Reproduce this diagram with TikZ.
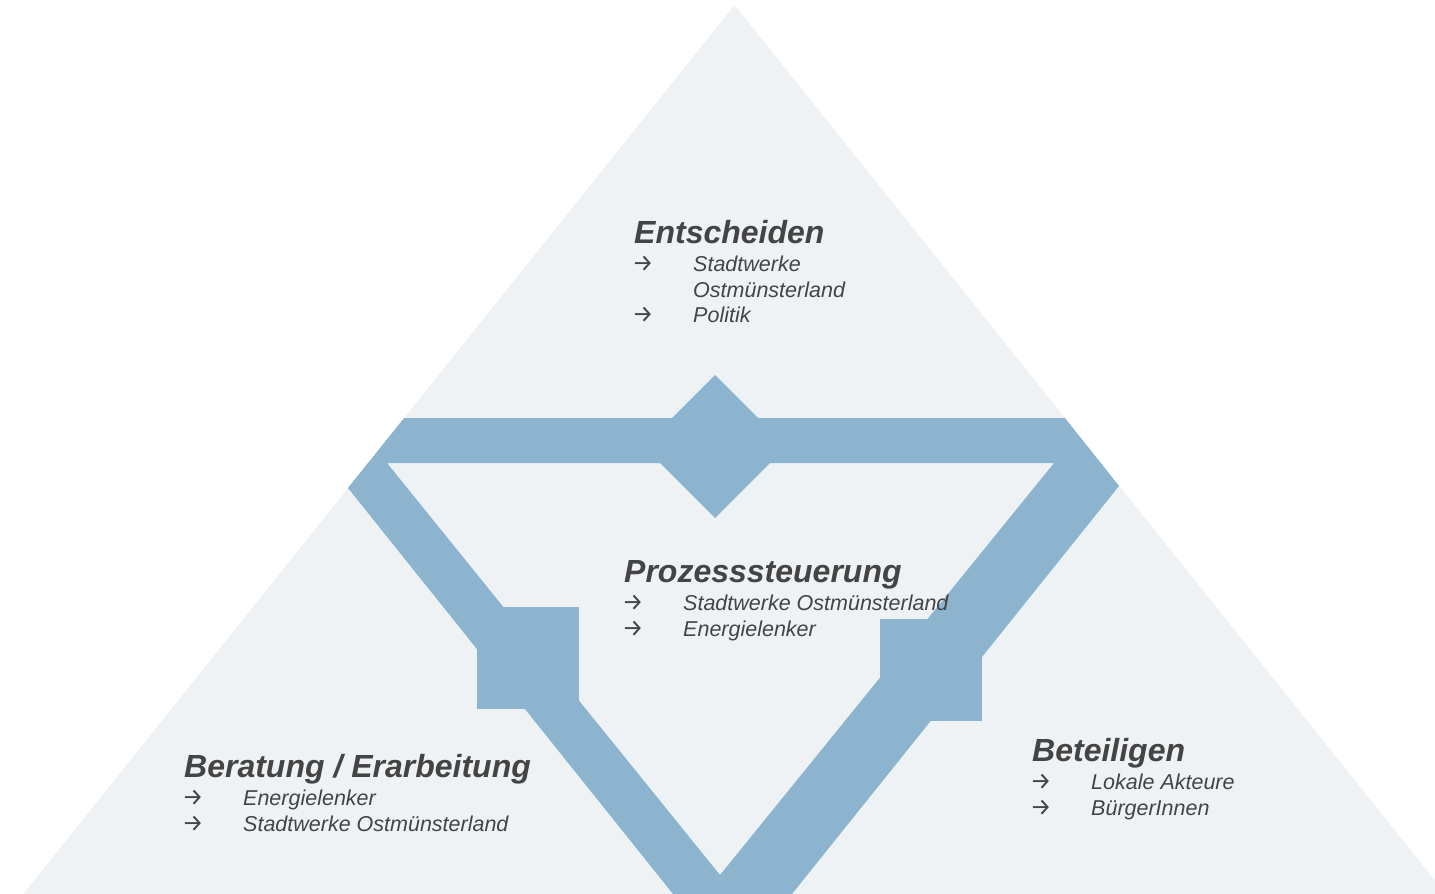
\documentclass[tikz,border=0pt]{standalone}
\usepackage{fontspec}
\setmainfont{Liberation Sans}
\newfontfamily\arrowfont{Fira Sans}
\definecolor{lightbg}{RGB}{239,242,245}
\definecolor{bandblue}{RGB}{141,180,207}
\definecolor{txt}{RGB}{68,68,68}
\tikzset{
  head/.style={anchor=base west,inner sep=0pt,text=txt,font=\fontsize{32}{36}\selectfont\bfseries\itshape},
  item/.style={anchor=base west,inner sep=0pt,text=txt,font=\fontsize{21.5}{25}\selectfont\itshape},
  arr/.style={anchor=base west,inner sep=0pt,text=txt,font=\arrowfont\fontsize{24}{26}\selectfont,text height=13pt,text depth=0pt},
  band/.style={fill=bandblue,draw=none}
}
\begin{document}
\begin{tikzpicture}[x=1pt,y=-1pt]
\useasboundingbox (0,0) rectangle (1435,894);
\begin{scope}
\clip (0,0) rectangle (1435,894);
% light background triangle
\fill[lightbg] (734.5,5) -- (1445.7,894) -- (23.3,894) -- cycle;
% blue inverted triangular band
\fill[bandblue,even odd rule]
  (404.1,418) -- (1064.9,418) -- (1119,486) -- (792,894) -- (673,894) -- (348,488) -- cycle
  (387,463) -- (1054,463) -- (720,875) -- cycle;
% diamond and squares
\fill[band] (715,375) -- (786.5,446.5) -- (715,518) -- (643.5,446.5) -- cycle;
\fill[band] (477,607) rectangle (579,709);
\fill[band] (880,619) rectangle (982,721);
\end{scope}
% Entscheiden
\node[head] (h1) at (634,243) {Entscheiden};
\node[arr]  (a11) at (632,271.5) {→};
\node[item] (t11) at (693,271) {Stadtwerke};
\node[item] (t12) at (693,297) {Ostmünsterland};
\node[arr]  (a12) at (632,322.5) {→};
\node[item] (t13) at (693,322) {Politik};
% Prozesssteuerung
\node[head] (h2) at (624,582) {Prozesssteuerung};
\node[arr]  (a21) at (622,610.5) {→};
\node[item] (t21) at (683,610) {Stadtwerke Ostmünsterland};
\node[arr]  (a22) at (622,636.5) {→};
\node[item] (t22) at (683,636) {Energielenker};
% Beratung / Erarbeitung
\node[head] (h3) at (184,777) {Beratung / Erarbeitung};
\node[arr]  (a31) at (182,805.5) {→};
\node[item] (t31) at (243,805) {Energielenker};
\node[arr]  (a32) at (182,831.5) {→};
\node[item] (t32) at (243,831) {Stadtwerke Ostmünsterland};
% Beteiligen
\node[head] (h4) at (1032,761) {Beteiligen};
\node[arr]  (a41) at (1030,789.5) {→};
\node[item] (t41) at (1091,789) {Lokale Akteure};
\node[arr]  (a42) at (1030,815.5) {→};
\node[item] (t42) at (1091,815) {BürgerInnen};
\end{tikzpicture}
\end{document}
